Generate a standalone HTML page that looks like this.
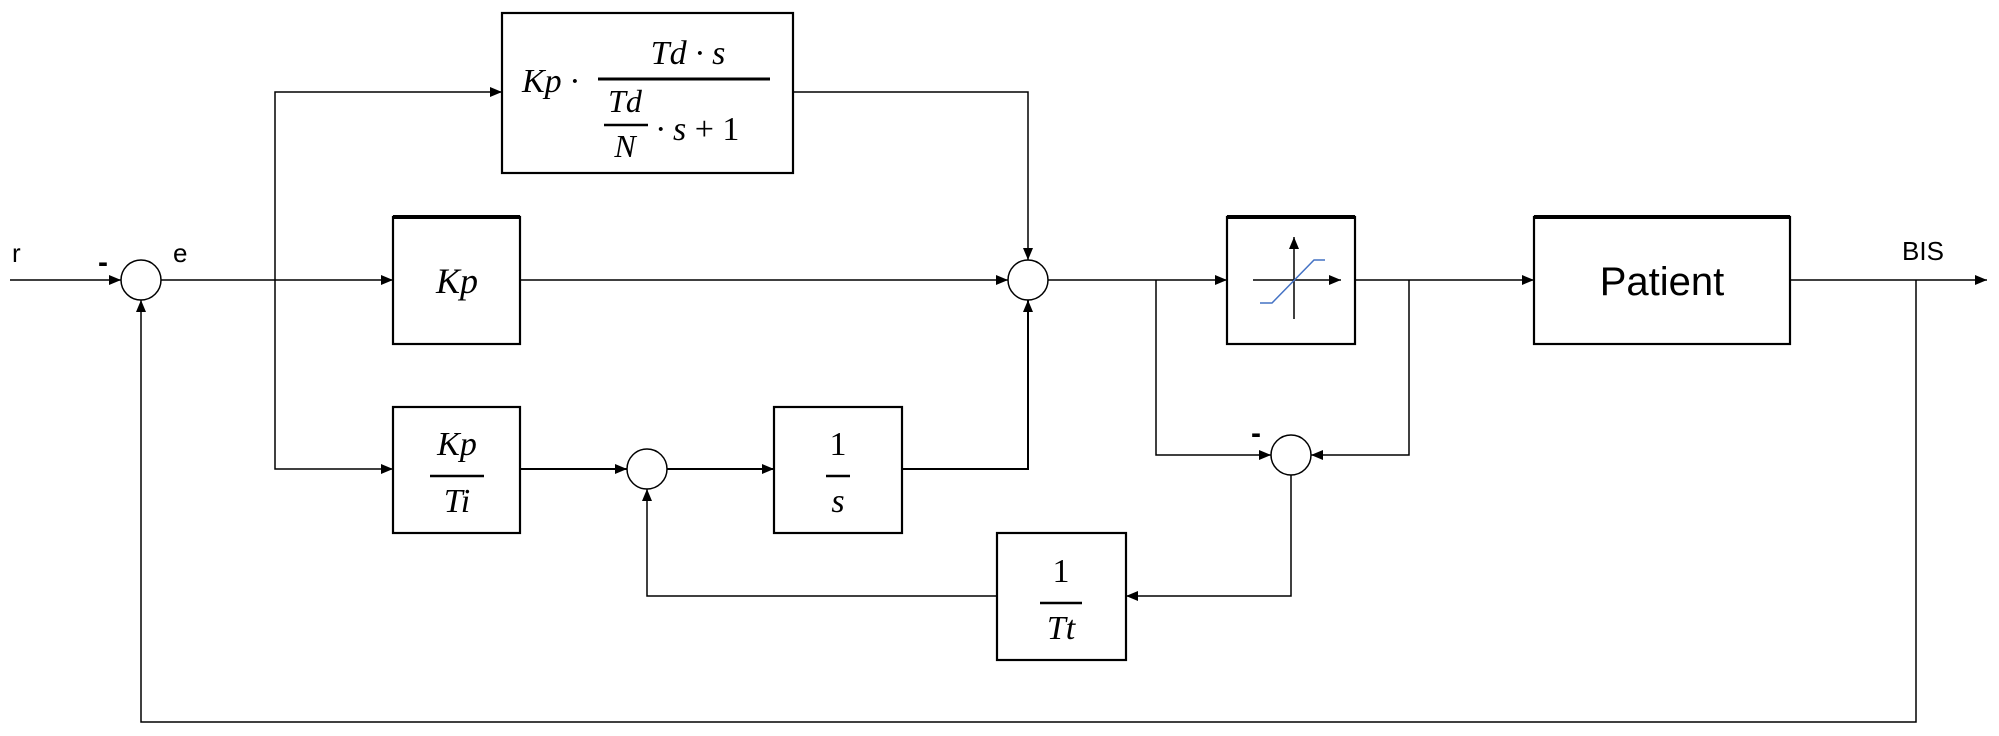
<!DOCTYPE html>
<html><head><meta charset="utf-8"><style>html,body{margin:0;padding:0;background:#fff}svg{display:block}</style></head>
<body>
<svg width="1999" height="736" viewBox="0 0 1999 736" xmlns="http://www.w3.org/2000/svg">
<defs>
<marker id="a" markerWidth="12" markerHeight="10" refX="12" refY="5" orient="auto" markerUnits="userSpaceOnUse"><path d="M0,0 L12,5 L0,10 z" fill="#000"/></marker>
</defs>
<g fill="none" stroke="#000" stroke-width="1.5">
<!-- main input -->
<line x1="10" y1="280" x2="121" y2="280" marker-end="url(#a)"/>
<circle cx="141" cy="280" r="20"/>
<line x1="161" y1="280" x2="393" y2="280" marker-end="url(#a)"/>
<!-- branch -->
<polyline points="275,280 275,92 502,92" marker-end="url(#a)"/>
<polyline points="275,280 275,469 393,469" marker-end="url(#a)"/>
<!-- boxes -->
<rect x="502" y="13" width="291" height="160" stroke-width="2.2"/>
<rect x="393" y="217" width="127" height="127" stroke-width="2.2"/>
<line x1="393" y1="217" x2="520" y2="217" stroke-width="4"/>
<rect x="393" y="407" width="127" height="126" stroke-width="2.2"/>
<rect x="774" y="407" width="128" height="126" stroke-width="2.2"/>
<rect x="997" y="533" width="129" height="127" stroke-width="2.2"/>
<rect x="1227" y="217" width="128" height="127" stroke-width="2.2"/>
<line x1="1227" y1="217" x2="1355" y2="217" stroke-width="4"/>
<rect x="1534" y="217" width="256" height="127" stroke-width="2.2"/>
<line x1="1534" y1="217" x2="1790" y2="217" stroke-width="4"/>
<!-- Kp -> sum3 -->
<line x1="520" y1="280" x2="1008" y2="280" marker-end="url(#a)"/>
<polyline points="793,92 1028,92 1028,260" marker-end="url(#a)"/>
<circle cx="1028" cy="280" r="20"/>
<!-- integral path -->
<line x1="520" y1="469" x2="627" y2="469" stroke-width="2" marker-end="url(#a)"/>
<circle cx="647" cy="469" r="20"/>
<line x1="667" y1="469" x2="774" y2="469" stroke-width="2" marker-end="url(#a)"/>
<polyline points="902,469 1028,469 1028,300" stroke-width="2" marker-end="url(#a)"/>
<polyline points="997,596 647,596 647,489" marker-end="url(#a)"/>
<!-- saturation -->
<line x1="1048" y1="280" x2="1227" y2="280" marker-end="url(#a)"/>
<line x1="1355" y1="280" x2="1534" y2="280" marker-end="url(#a)"/>
<polyline points="1156,280 1156,455 1271,455" marker-end="url(#a)"/>
<polyline points="1409,280 1409,455 1311,455" marker-end="url(#a)"/>
<circle cx="1291" cy="455" r="20"/>
<polyline points="1291,475 1291,596 1126,596" marker-end="url(#a)"/>
<!-- output -->
<line x1="1790" y1="280" x2="1987" y2="280" marker-end="url(#a)"/>
<polyline points="1916,280 1916,722 141,722 141,300" marker-end="url(#a)"/>
<!-- sat icon -->
<line x1="1294" y1="319" x2="1294" y2="237" marker-end="url(#a)"/>
<line x1="1253" y1="280" x2="1341" y2="280" marker-end="url(#a)"/>
<polyline points="1260,303 1272,303 1314,260 1325,260" stroke="#4472c4" stroke-width="1.5"/>
</g>
<g font-family="Liberation Sans, sans-serif" fill="#000">
<text x="12" y="262" font-size="26">r</text>
<text x="98" y="272" font-size="30" font-weight="bold">-</text>
<text x="173" y="262" font-size="26">e</text>
<text x="1251" y="443" font-size="30" font-weight="bold">-</text>
<text x="1902" y="260" font-size="26">BIS</text>
<text x="1662" y="295" font-size="40" text-anchor="middle">Patient</text>
</g>
<g font-family="Liberation Serif, serif" font-style="italic" fill="#000">
<text x="522" y="92" font-size="34">Kp ·</text>
<text x="688" y="64" font-size="34" text-anchor="middle">Td · s</text>
<line x1="598" y1="79" x2="770" y2="79" stroke="#000" stroke-width="3"/>
<text x="625" y="112" font-size="32" text-anchor="middle">Td</text>
<line x1="604" y1="125" x2="648" y2="125" stroke="#000" stroke-width="2.5"/>
<text x="625" y="157" font-size="32" text-anchor="middle">N</text>
<text x="656" y="140" font-size="34">· s <tspan font-style="normal">+ 1</tspan></text>
<text x="457" y="293" font-size="36" text-anchor="middle">Kp</text>
<text x="457" y="455" font-size="34" text-anchor="middle">Kp</text>
<line x1="430" y1="476" x2="484" y2="476" stroke="#000" stroke-width="2.5"/>
<text x="457" y="512" font-size="34" text-anchor="middle">Ti</text>
<text x="838" y="455" font-size="34" text-anchor="middle" font-style="normal">1</text>
<line x1="826" y1="476" x2="850" y2="476" stroke="#000" stroke-width="2.5"/>
<text x="838" y="512" font-size="34" text-anchor="middle">s</text>
<text x="1061" y="582" font-size="34" text-anchor="middle" font-style="normal">1</text>
<line x1="1040" y1="603" x2="1082" y2="603" stroke="#000" stroke-width="2.5"/>
<text x="1061" y="639" font-size="34" text-anchor="middle">Tt</text>
</g>
</svg>
</body></html>
